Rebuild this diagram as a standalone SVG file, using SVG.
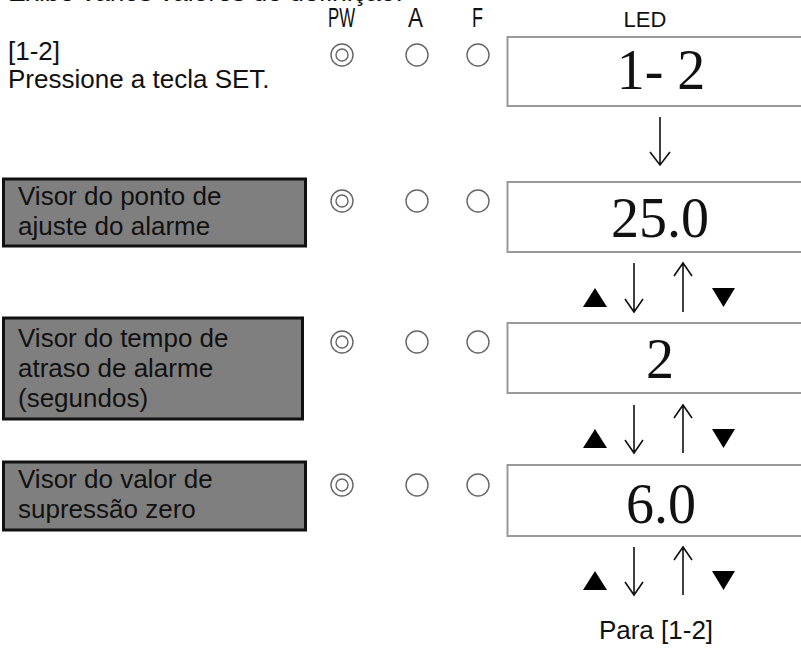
<svg xmlns="http://www.w3.org/2000/svg" width="801" height="648" viewBox="0 0 801 648">
<style>
.sans{font-family:"Liberation Sans",Arial,sans-serif;fill:#111}
.lbl{font-size:26px}
.hdr{font-family:"Liberation Sans",Arial,sans-serif;font-size:27px;fill:#111}
.led{fill:#fff;stroke:#999;stroke-width:2}
.num{font-family:"Liberation Serif","Times New Roman",serif;font-size:56px;fill:#111;text-anchor:middle}
.gbox{fill:#7f7f7f;stroke:#111;stroke-width:3}
.ring{fill:none;stroke:#666;stroke-width:1.4}
.arr{fill:none;stroke:#111;stroke-width:1.6}
.tri{fill:#000}
</style>
<defs>
<g id="pw"><circle class="ring" r="11"/><circle class="ring" r="6"/></g>
<g id="off"><circle class="ring" r="11"/></g>
</defs>
<text class="sans" x="8" y="1" font-size="26.5" fill="#333">Exibe vários valores de definição.</text>
<g id="header">
<text class="hdr" x="328" y="27" textLength="27" lengthAdjust="spacingAndGlyphs">PW</text>
<text class="hdr" x="408" y="27" textLength="15" lengthAdjust="spacingAndGlyphs">A</text>
<text class="hdr" x="472" y="27" textLength="11" lengthAdjust="spacingAndGlyphs">F</text>
<text class="sans" x="645" y="27" font-size="22" text-anchor="middle">LED</text>
</g>
<g id="step-1-2">
<text class="sans lbl" x="8" y="60">[1-2]</text>
<text class="sans lbl" x="8" y="88">Pressione a tecla SET.</text>
</g>
<g id="node-alarm-setpoint">
<rect class="gbox" x="3.5" y="179" width="302" height="67"/>
<text class="sans lbl" x="18" y="205">Visor do ponto de</text>
<text class="sans lbl" x="18" y="235">ajuste do alarme</text>
</g>
<g id="node-alarm-delay">
<rect class="gbox" x="3.5" y="318" width="299" height="101"/>
<text class="sans lbl" x="18" y="347">Visor do tempo de</text>
<text class="sans lbl" x="18" y="377">atraso de alarme</text>
<text class="sans lbl" x="18" y="407">(segundos)</text>
</g>
<g id="node-zero-suppression">
<rect class="gbox" x="3.5" y="462" width="302" height="68"/>
<text class="sans lbl" x="18" y="488">Visor do valor de</text>
<text class="sans lbl" x="18" y="518">supressão zero</text>
</g>
<g id="indicators">
<use href="#pw" x="342" y="55"/><use href="#off" x="417" y="55"/><use href="#off" x="478" y="55"/>
<use href="#pw" x="342" y="201"/><use href="#off" x="417" y="201"/><use href="#off" x="478" y="201"/>
<use href="#pw" x="342" y="342"/><use href="#off" x="417" y="342"/><use href="#off" x="478" y="342"/>
<use href="#pw" x="342" y="485"/><use href="#off" x="417" y="485"/><use href="#off" x="478" y="485"/>
</g>
<g id="led-1-2"><rect class="led" x="507.5" y="37" width="300" height="69"/><text class="num" x="661" y="89">1- 2</text></g>
<g id="led-25"><rect class="led" x="507.5" y="182" width="300" height="70"/><text class="num" x="660" y="237">25.0</text></g>
<g id="led-2"><rect class="led" x="507.5" y="323" width="300" height="70"/><text class="num" x="660" y="378">2</text></g>
<g id="led-6"><rect class="led" x="507.5" y="465" width="300" height="71"/><text class="num" x="661" y="523">6.0</text></g>
<g id="connectors">
<path class="arr" d="M660 117V165M650 152L660 165L670 152"/>
<path class="arr" d="M634 263V312M625 299L634 312L643 299"/>
<path class="arr" d="M683 312V263M674 276L683 263L692 276"/>
<polygon class="tri" points="583,307 595,288 607,307"/>
<polygon class="tri" points="712,288 735,288 723.5,307"/>
<path class="arr" d="M634 405V453M625 440L634 453L643 440"/>
<path class="arr" d="M683 453V405M674 418L683 405L692 418"/>
<polygon class="tri" points="583,448 595,429 607,448"/>
<polygon class="tri" points="712,429 735,429 723.5,448"/>
<path class="arr" d="M634 547V595M625 582L634 595L643 582"/>
<path class="arr" d="M683 595V547M674 560L683 547L692 560"/>
<polygon class="tri" points="583,590 595,571 607,590"/>
<polygon class="tri" points="712,571 735,571 723.5,590"/>
</g>
<text class="sans" x="656" y="639" font-size="26" text-anchor="middle">Para [1-2]</text>
</svg>
